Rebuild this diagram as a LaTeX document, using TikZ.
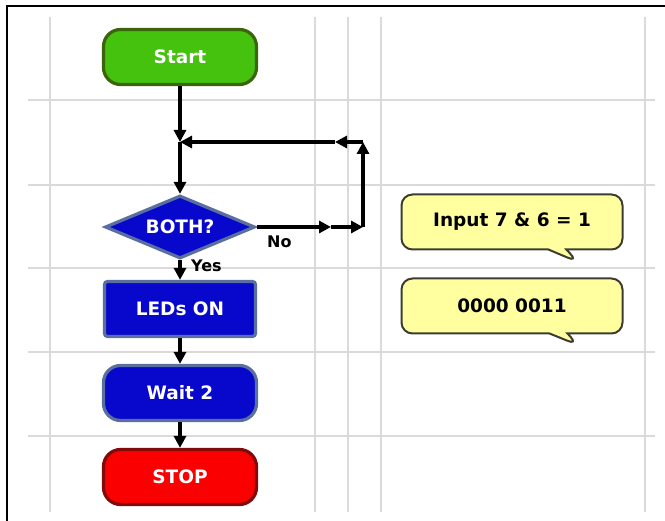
\documentclass[tikz,border=0pt]{standalone}
\usepackage{fontspec}
\setmainfont{DejaVu Sans}
\usetikzlibrary{arrows.meta,shapes.geometric,shapes.callouts}
\definecolor{gridc}{RGB}{218,218,218}
\definecolor{startfill}{RGB}{68,194,14}
\definecolor{startdraw}{RGB}{60,100,10}
\definecolor{bluefill}{RGB}{8,8,204}
\definecolor{bluedraw}{RGB}{90,110,160}
\definecolor{redfill}{RGB}{250,0,0}
\definecolor{reddraw}{RGB}{130,10,10}
\definecolor{notefill}{RGB}{255,255,160}
\definecolor{notedraw}{RGB}{60,60,50}
\begin{document}
\begin{tikzpicture}[x=1pt,y=-1pt,
  gridline/.style={gridc,line width=1.8pt},
  framel/.style={black,line width=2.6pt},
  boxtext/.style={text=white,font=\fontsize{18.5}{22}\selectfont\bfseries},
  pill/.style={boxtext,rectangle,rounded corners=17pt,minimum width=153pt,minimum height=55pt,line width=3.2pt},
  procbox/.style={boxtext,rectangle,rounded corners=3pt,minimum width=151pt,minimum height=55pt,line width=3.2pt,fill=bluefill,draw=bluedraw},
  decision/.style={boxtext,diamond,aspect=2.4,inner sep=0pt,minimum width=150pt,minimum height=63pt,line width=3.2pt,fill=bluefill,draw=bluedraw},
  note/.style={rectangle callout,rounded corners=11pt,fill=notefill,draw=notedraw,line width=2pt,minimum width=221pt,minimum height=55pt,callout pointer width=18pt,font=\fontsize{18.5}{22}\selectfont\bfseries,text=black},
  flow/.style={black,line width=3.2pt,-{Triangle[length=12pt,width=12pt]}},
  lbl/.style={font=\fontsize{16}{19}\selectfont\bfseries,text=black,inner sep=0pt}]
\useasboundingbox (0,0) rectangle (665,521);
% grid
\foreach \gx in {50,315,348,381,645} \draw[gridline] (\gx,17) -- (\gx,512);
\foreach \gy in {100,185,268,352,436} \draw[gridline] (28,\gy) -- (655,\gy);
% frame
\draw[framel] (7,521) -- (7,6) -- (665,6);
% nodes
\node[pill,fill=startfill,draw=startdraw] (start) at (180,57) {Start};
\node[decision] (both) at (180,227) {BOTH?};
\node[procbox] (leds) at (180,309) {LEDs ON};
\node[pill,fill=bluefill,draw=bluedraw] (wait) at (180,393) {Wait 2};
\node[pill,fill=redfill,draw=reddraw] (stop) at (180,477) {STOP};
\node[note,callout absolute pointer={(578,262)}] (n1) at (512,222) {Input 7 \& 6 = 1};
\node[note,callout absolute pointer={(578,345)}] (n2) at (512,306) {0000 0011};
% labels
\node[lbl,anchor=west] (yes) at (191,266) {Yes};
\node[lbl,anchor=west] (no) at (267,242) {No};
% coordinates
\coordinate (j) at (180,142);
\coordinate (m1) at (331,227);
\coordinate (c1) at (363,227);
\coordinate (c2) at (363,142);
\coordinate (m2) at (335,142);
% connectors
\draw[flow] (start.south) -- (j);
\draw[flow] (j) -- (both.north);
\draw[flow] (both.east) -- (m1);
\draw[flow] (m1) -- (c1);
\draw[flow] (c1) -- (c2);
\draw[flow] (c2) -- (m2);
\draw[flow] (m2) -- (j);
\draw[flow] (both.south) -- (leds.north);
\draw[flow] (leds.south) -- (wait.north);
\draw[flow] (wait.south) -- (stop.north);
\end{tikzpicture}
\end{document}
